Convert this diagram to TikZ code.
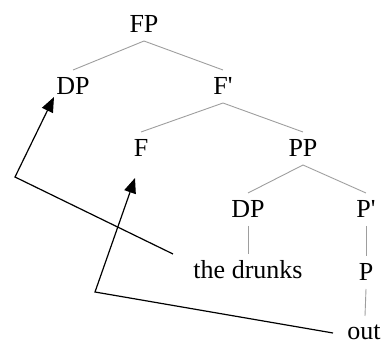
\documentclass[tikz,border=0pt]{standalone}
\usepackage{fontspec}
\setmainfont{Liberation Serif}
\usetikzlibrary{arrows.meta}
\begin{document}
\begin{tikzpicture}[x=1pt,y=-1pt,
  lbl/.style={font=\fontsize{26}{30}\selectfont, inner sep=0pt, outer sep=3pt,
    text height=22pt, text depth=5pt, anchor=base},
  branch/.style={draw=black!38, line width=0.9pt},
  mv/.style={draw=black, line width=1.2pt, line join=miter,
    -{Triangle[length=15pt,width=12pt]}}]
\useasboundingbox (0,0) rectangle (384,345);
\node[lbl] (FP) at (144,33) {FP};
\node[lbl] (DP) at (73,95) {DP};
\node[lbl] (Fb) at (223,95) {F\textquotesingle};
\node[lbl] (F) at (141,157) {F};
\node[lbl] (PP) at (303,157) {PP};
\node[lbl] (DP2) at (248,218) {DP};
\node[lbl] (Pb) at (366,218) {P\textquotesingle};
\node[lbl] (td) at (248,279) {the drunks};
\node[lbl] (P) at (366,281) {P};
\node[lbl, text depth=0pt, outer sep=0pt, text height=24pt] (out) at (364,340) {out};
\draw[branch] (FP.south) -- (DP.north);
\draw[branch] (FP.south) -- (Fb.north);
\draw[branch] (Fb.south) -- (F.north);
\draw[branch] (Fb.south) -- (PP.north);
\draw[branch] (PP.south) -- (DP2.north);
\draw[branch] (PP.south) -- (Pb.north);
\draw[branch] (DP2.south) -- (td.north);
\draw[branch] (Pb.south) -- (P.north);
\draw[branch] (P.south) -- ([xshift=1pt]out.north);
\coordinate (s1) at (173,254);
\coordinate (b1) at (15,177);
\coordinate (e1) at (54,97);
\coordinate (s2) at (333,333);
\coordinate (b2) at (95,292);
\coordinate (e2) at (135,178);
\draw[mv] (s1) -- (b1) -- (e1);
\draw[mv] (s2) -- (b2) -- (e2);
\end{tikzpicture}
\end{document}
